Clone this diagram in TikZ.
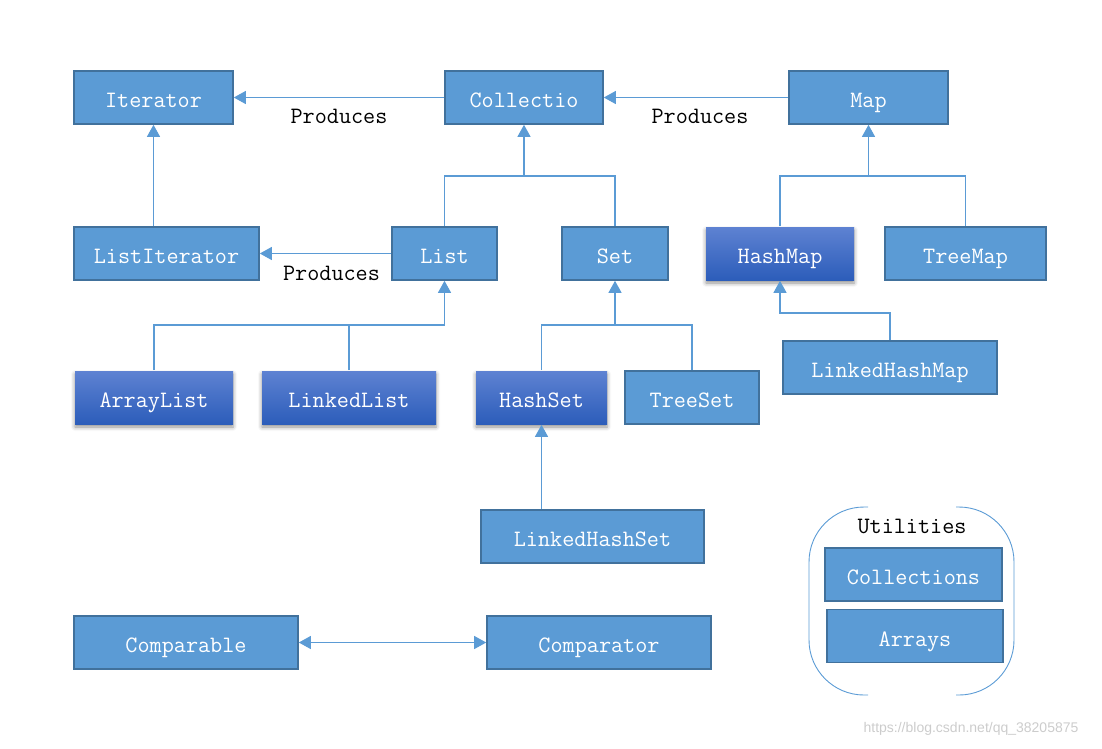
\documentclass[tikz,border=0pt]{standalone}
\usepackage{fontspec}
\newfontfamily\markfont{Liberation Sans}
\usepackage{tikz}
\usetikzlibrary{arrows.meta, shadows.blur}
\definecolor{colorBox}{HTML}{5B9BD5}
\definecolor{colorBorder}{HTML}{41719C}
\definecolor{colorTop}{RGB}{94,130,210}
\definecolor{colorBottom}{RGB}{44,93,186}
\colorlet{colorLink}{colorBox}
\tikzset{
  box/.style={draw=colorBorder, line width=1.6pt, fill=colorBox, text=white,
    minimum height=53pt, inner sep=0pt, text height=21pt, text depth=1pt,
    font=\fontsize{23.5}{26}\selectfont\ttfamily},
  implbox/.style={box, draw=none, top color=colorTop, bottom color=colorBottom,
    blur shadow={shadow xshift=0pt, shadow yshift=-3pt, shadow blur radius=4pt, shadow opacity=45}},
  link/.style={draw=colorLink, line width=1.1pt},
  edgetext/.style={text=black, anchor=base, font=\fontsize{23.5}{26}\selectfont\ttfamily},
}

\begin{document}
\begin{tikzpicture}[x=1pt, y=-1pt, >={Triangle[width=13pt, length=12pt]}]
\useasboundingbox (0,0) rectangle (1102,748);
% interfaces
\node[box, minimum width=159pt] (cIterator) at (153.5,97.5) {Iterator};
\node[box, minimum width=158pt] (cCollection) at (524,97.5) {Collectio};
\node[box, minimum width=159pt] (cMap) at (868.5,97.5) {Map};
\node[box, minimum width=185pt] (cListIterator) at (166.5,253.5) {ListIterator};
\node[box, minimum width=105pt] (cList) at (444.5,253.5) {List};
\node[box, minimum width=106pt] (cSet) at (615,253.5) {Set};
\node[implbox, minimum width=148pt] (cHashMap) at (780,253.5) {HashMap};
\node[box, minimum width=161pt] (cTreeMap) at (965.5,253.5) {TreeMap};
% implementations
\node[implbox, minimum width=158pt] (cArrayList) at (154,397.5) {ArrayList};
\node[implbox, minimum width=174pt] (cLinkedList) at (349,397.5) {LinkedList};
\node[implbox, minimum width=131pt] (cHashSet) at (541.5,397.5) {HashSet};
\node[box, minimum width=134pt] (cTreeSet) at (692,397.5) {TreeSet};
\node[box, minimum width=214pt] (cLinkedHashMap) at (890,367.5) {LinkedHashMap};
\node[box, minimum width=223pt] (cLinkedHashSet) at (592.5,536.5) {LinkedHashSet};
\node[box, minimum width=224pt] (cComparable) at (186,642.5) {Comparable};
\node[box, minimum width=224pt] (cComparator) at (599,642.5) {Comparator};
% utilities
\node[edgetext] (tUtilities) at (912,533) {Utilities};
\node[box, minimum width=177pt] (cCollections) at (913.5,574.5) {Collections};
\node[box, minimum width=176pt] (cArrays) at (915,636) {Arrays};
\draw[link, line width=0.9pt, rounded corners=55pt] (868,507) -- (809,507) -- (809,695) -- (868,695);
\draw[link, line width=0.9pt, rounded corners=55pt] (956,507) -- (1014,507) -- (1014,695) -- (956,695);
% junctions
\coordinate (jCollection) at (524,176);
\coordinate (jMap) at (868.5,176);
\coordinate (jList) at (444.5,325);
\coordinate (jSet) at (615,325);
\coordinate (jHashMap) at (780,313);
% produces
\draw[link, ->] (cCollection) -- node[edgetext, yshift=-26pt]{Produces} (cIterator);
\draw[link, ->] (cMap) -- node[edgetext, yshift=-26pt, xshift=4pt]{Produces} (cCollection);
\draw[link, ->] (cList) -- node[edgetext, yshift=-27pt, xshift=6pt]{Produces} (cListIterator);
\draw[link, ->] (cListIterator.north -| cIterator) -- (cIterator);
% hierarchy
\draw[link] (cList.north) -- (cList.north |- jCollection) -- (cSet.north |- jCollection) -- (cSet.north);
\draw[link, ->] (jCollection) -- (cCollection);
\draw[link] (cHashMap.north) -- (cHashMap.north |- jMap) -- (cTreeMap.north |- jMap) -- (cTreeMap.north);
\draw[link, ->] (jMap) -- (cMap);
\draw[link] (cArrayList.north) -- (cArrayList.north |- jList) -- (jList);
\draw[link] (cLinkedList.north) -- (cLinkedList.north |- jList);
\draw[link, ->] (jList) -- (cList);
\draw[link] (cHashSet.north) -- (cHashSet.north |- jSet) -- (cTreeSet.north |- jSet) -- (cTreeSet.north);
\draw[link, ->] (jSet) -- (cSet);
\draw[link, ->] (cLinkedHashMap.north) |- (jHashMap) -- (cHashMap);
\draw[link, ->] (cLinkedHashSet.north -| cHashSet) -- (cHashSet);
\draw[link, <->] (cComparable) -- (cComparator);
% watermark
\node[font=\markfont\fontsize{14}{16}\selectfont, text=black!20] (tMark) at (971,729) {https://blog.csdn.net/qq\_38205875};
\end{tikzpicture}
\end{document}
